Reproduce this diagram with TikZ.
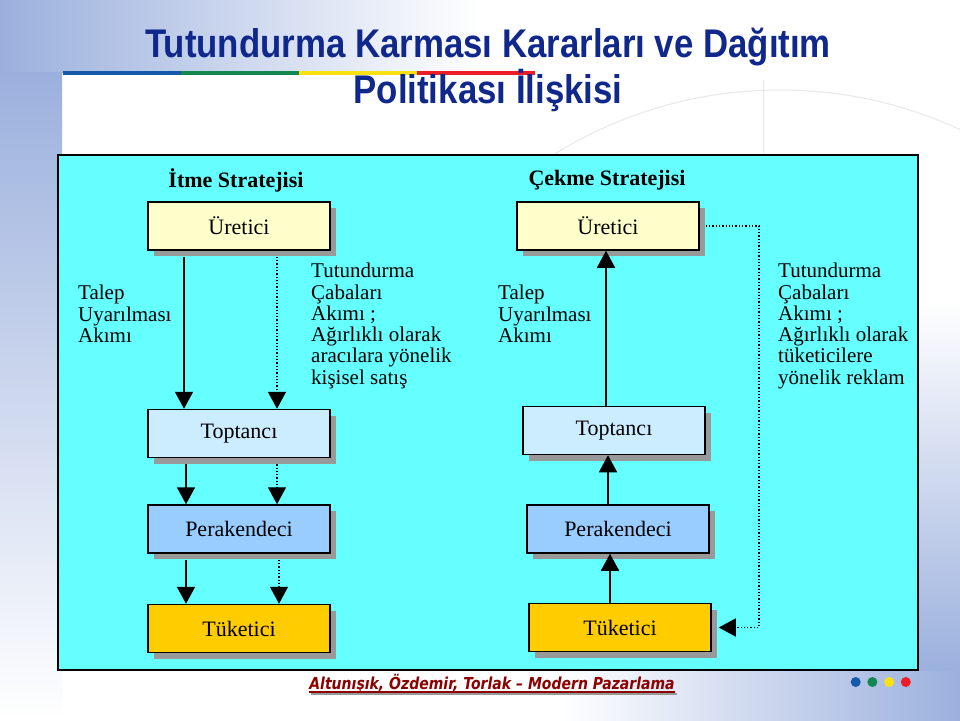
\documentclass[tikz,border=0pt]{standalone}
\usepackage{fontspec}
\setmainfont{Liberation Serif}
\newfontfamily\titlefont[FakeStretch=0.87]{Liberation Sans}
\newfontfamily\footfont[FakeStretch=0.85]{DejaVu Sans}
\usetikzlibrary{arrows.meta,shadows,positioning}
\definecolor{bgblue}{RGB}{155,176,221}
\definecolor{titleblue}{RGB}{16,40,140}
\definecolor{panel}{RGB}{102,255,255}
\definecolor{uretcol}{RGB}{255,255,204}
\definecolor{toptcol}{RGB}{204,236,255}
\definecolor{perakcol}{RGB}{153,204,255}
\definecolor{tuketcol}{RGB}{255,204,0}
\definecolor{footred}{RGB}{140,0,0}
\definecolor{lineblue}{RGB}{20,90,170}
\definecolor{linegreen}{RGB}{20,135,80}
\definecolor{lineyellow}{RGB}{250,225,20}
\definecolor{linered}{RGB}{235,30,40}

\begin{document}
\begin{tikzpicture}[x=1pt, y=-1pt,
    box/.style={rectangle, draw, line width=1.5pt, minimum width=182pt, minimum height=48pt,
        font=\fontsize{22}{24}\selectfont,
        drop shadow={shadow xshift=6pt, shadow yshift=-6pt, fill=black!40, opacity=1}},
    flow/.style={line width=1.8pt, -{Triangle[length=17pt,width=18pt]}},
    push/.style={line width=1.3pt, dotted, -{Triangle[length=17pt,width=18pt]}},
    note/.style={anchor=north west, inner sep=0pt, align=left, font=\fontsize{21}{21.3}\selectfont},
    head/.style={font=\fontsize{22}{24}\selectfont\bfseries}]

    \fill[white] (0,0) rectangle (960,720);
    \useasboundingbox (0,0) rectangle (960,720);
    \shade[left color=bgblue, right color=white] (0,0) rectangle (480,72);
    \shade[top color=bgblue, bottom color=white] (0,72) rectangle (62,720);
    \shade[left color=white, right color=bgblue] (560,670) rectangle (960,720);
    \shade[top color=white, bottom color=bgblue] (918,300) rectangle (960,670);
    \begin{scope}
        \clip (62,72) rectangle (960,155);
        \draw[black!9, line width=1pt] (780,518) circle (428);
        \draw[black!9, line width=1pt] (763,80) -- (763,155);
    \end{scope}

    \foreach \c [count=\i] in {lineblue,linegreen,lineyellow,linered}
        \draw[\c, line width=4pt] ({63+118*(\i-1)},73) -- ({63+118*\i},73);

    \node[anchor=base, text=titleblue, font=\titlefont\bfseries\fontsize{40}{44}\selectfont] (title1) at (488,57) {Tutundurma Karması Kararları ve Dağıtım};
    \node[anchor=base, text=titleblue, font=\titlefont\bfseries\fontsize{40}{44}\selectfont] (title2) at (488,103) {Politikası İlişkisi};

    \draw[fill=panel, line width=1.5pt] (58,155) rectangle (918,670);

    \node[head] (itme) at (236,180) {İtme Stratejisi};
    \node[head] (cekme) at (607,180) {Çekme Stratejisi};

    \node[box, fill=uretcol] (uretL) at (239,226) {Üretici};
    \node[box, fill=toptcol, below=158pt of uretL] (toptL) {Toptancı};
    \node[box, fill=perakcol, below=46pt of toptL] (perakL) {Perakendeci};
    \node[box, fill=tuketcol, below=50pt of perakL] (tuketL) {Tüketici};

    \node[box, fill=uretcol] (uretR) at (608,226) {Üretici};
    \node[box, fill=toptcol, below=155pt of uretR, xshift=6pt] (toptR) {Toptancı};
    \node[box, fill=perakcol, below=49pt of toptR, xshift=4pt] (perakR) {Perakendeci};
    \node[box, fill=tuketcol, below=49pt of perakR, xshift=2pt] (tuketR) {Tüketici};

    \node[note] (talepL) at (78,285) {Talep\\Uyarılması\\Akımı};
    \node[note] (tutL) at (311,263) {Tutundurma\\Çabaları\\Akımı ;\\Ağırlıklı olarak\\aracılara yönelik\\kişisel satış};
    \node[note] (talepR) at (498,285) {Talep\\Uyarılması\\Akımı};
    \node[note] (tutR) at (778,263) {Tutundurma\\Çabaları\\Akımı ;\\Ağırlıklı olarak\\tüketicilere\\yönelik reklam};

    \draw[flow, shorten <=6pt] ([xshift=-55pt]uretL.south) -- ([xshift=-55pt]toptL.north);
    \draw[push, shorten <=6pt] ([xshift=38pt]uretL.south) -- ([xshift=38pt]toptL.north);
    \draw[flow, shorten <=6pt] ([xshift=-53pt]toptL.south) -- ([xshift=-53pt]perakL.north);
    \draw[push, shorten <=6pt] ([xshift=38pt]toptL.south) -- ([xshift=38pt]perakL.north);
    \draw[flow, shorten <=6pt] ([xshift=-53pt]perakL.south) -- ([xshift=-53pt]tuketL.north);
    \draw[push, shorten <=6pt] ([xshift=40pt]perakL.south) -- ([xshift=40pt]tuketL.north);

    \draw[flow] ([xshift=-8pt]toptR.north) -- ([xshift=-8pt]toptR.north |- uretR.south);
    \draw[flow] ([xshift=-10pt]perakR.north) -- ([xshift=-10pt]perakR.north |- toptR.south);
    \draw[flow] ([xshift=-10pt]tuketR.north) -- ([xshift=-10pt]tuketR.north |- perakR.south);

    \coordinate (turn) at (759,0);
    \draw[push] ([xshift=6pt]uretR.east) -- (uretR.east -| turn) -- (tuketR.east -| turn) -- ([xshift=7pt]tuketR.east);

    \node[anchor=base, inner sep=0pt, text=footred, font=\footfont\bfseries\itshape\fontsize{16.5}{18}\selectfont] (foot) at (492,689) {Altunışık, Özdemir, Torlak – Modern Pazarlama};
    \draw[black!40, line width=1.2pt] ([shift={(2,5)}]foot.base west) -- ([shift={(2,5)}]foot.base east);
    \draw[footred, line width=1.2pt] ([yshift=-3pt]foot.base west) -- ([yshift=-3pt]foot.base east);

    \foreach \c [count=\i] in {lineblue,linegreen,lineyellow,linered}
        \fill[\c] ({839+16.7*\i},682) circle (5);
\end{tikzpicture}
\end{document}
